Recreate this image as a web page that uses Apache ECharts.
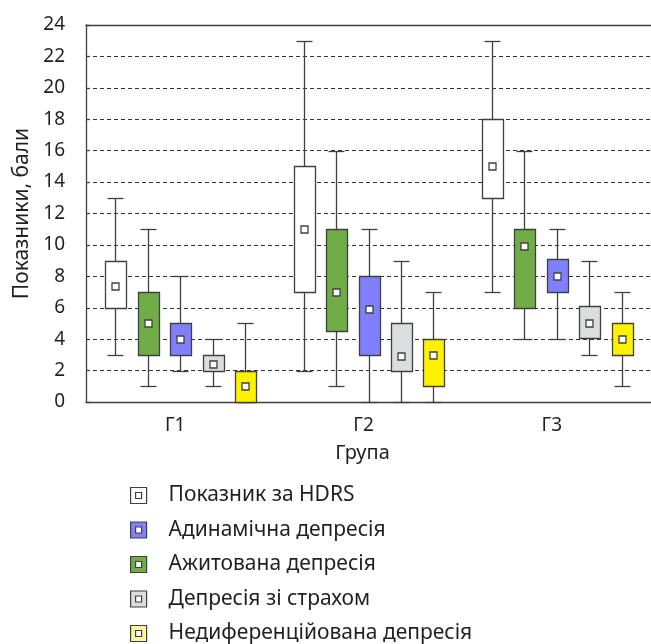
<!DOCTYPE html>
<html>
<head>
<meta charset="utf-8">
<script src="https://cdn.jsdelivr.net/npm/echarts@6/dist/echarts.min.js"></script>
<style>
html,body{margin:0;padding:0;background:#fff;}
#chart{width:651px;height:644px;}
</style>
</head>
<body>
<div id="chart"></div>
<script>
// ---- data ----
const categories = ['Г1', 'Г2', 'Г3'];
const yTicks = [0, 2, 4, 6, 8, 10, 12, 14, 16, 18, 20, 22, 24];

// plot order (left to right within each group)
const seriesNames = ['Показник за HDRS', 'Ажитована депресія', 'Адинамічна депресія', 'Депресія зі страхом', 'Недиференційована депресія'];
const legendOrder = ['Показник за HDRS', 'Адинамічна депресія', 'Ажитована депресія', 'Депресія зі страхом', 'Недиференційована депресія'];

// per series, per group: min, q1, q3, max, mean
const hdrsMin  = [3, 2, 7];
const hdrsQ1   = [6, 7, 13];
const hdrsQ3   = [9, 15, 18];
const hdrsMax  = [13, 23, 23];
const hdrsMean = [7.4, 11, 15];

const agitMin  = [1, 1, 4];
const agitQ1   = [3, 4.5, 6];
const agitQ3   = [7, 11, 11];
const agitMax  = [11, 16, 16];
const agitMean = [5, 7, 9.9];

const adynMin  = [2, 0, 4];
const adynQ1   = [3, 3, 7];
const adynQ3   = [5, 8, 9.1];
const adynMax  = [8, 11, 11];
const adynMean = [4, 5.9, 8];

const fearMin  = [1, 0, 3];
const fearQ1   = [2, 2, 4.1];
const fearQ3   = [3, 5, 6.1];
const fearMax  = [4, 9, 9];
const fearMean = [2.4, 2.9, 5];

const undMin  = [0, 0, 1];
const undQ1   = [0, 1, 3];
const undQ3   = [2, 4, 5];
const undMax  = [5, 7, 7];
const undMean = [1, 3, 4];

const seriesStats = [
  [hdrsMin, hdrsQ1, hdrsQ3, hdrsMax, hdrsMean],
  [agitMin, agitQ1, agitQ3, agitMax, agitMean],
  [adynMin, adynQ1, adynQ3, adynMax, adynMean],
  [fearMin, fearQ1, fearQ3, fearMax, fearMean],
  [undMin, undQ1, undQ3, undMax, undMean]
];

// ---- styles ----
const colorMap = {
  'Показник за HDRS': '#ffffff',
  'Ажитована депресія': '#70ad47',
  'Адинамічна депресія': '#8080ff',
  'Депресія зі страхом': '#dcdddf',
  'Недиференційована депресія': '#fff200'
};
const legendColorMap = {
  'Показник за HDRS': '#ffffff',
  'Ажитована депресія': '#70ad47',
  'Адинамічна депресія': '#8080ff',
  'Депресія зі страхом': '#dcdddf',
  'Недиференційована депресія': '#fff59a'
};
const edge = '#404040';
const textColor = '#231f20';
const fontFamily = '"Noto Sans", "Open Sans", sans-serif';

function renderItem(params, api) {
  const si = params.seriesIndex;
  const cat = api.value(0);
  const band = api.size([1, 0])[0];
  const off = (si - 2) * band * 0.1724;
  const bw = band * 0.114;
  const capW = band * 0.085;
  const cx = Math.round(api.coord([cat, 0])[0] + off) + 0.5;
  const y = i => Math.round(api.coord([cat, api.value(i)])[1]) + 0.5;
  const yMin = y(1), yQ1 = y(2), yQ3 = y(3), yMax = y(4), yMean = y(5);
  const ls = { stroke: edge, lineWidth: 1.3 };
  const left = Math.round(cx - bw / 2) + 0.5;
  const w = Math.round(bw);
  const m = 7;
  return {
    type: 'group',
    children: [
      { type: 'line', shape: { x1: cx, y1: yQ3, x2: cx, y2: yMax }, style: ls },
      { type: 'line', shape: { x1: cx, y1: yQ1, x2: cx, y2: yMin }, style: ls },
      { type: 'line', shape: { x1: cx - capW / 2, y1: yMax, x2: cx + capW / 2, y2: yMax }, style: ls },
      { type: 'line', shape: { x1: cx - capW / 2, y1: yMin, x2: cx + capW / 2, y2: yMin }, style: ls },
      { type: 'rect', shape: { x: left, y: yQ3, width: w, height: yQ1 - yQ3 },
        style: { fill: api.visual('color'), stroke: edge, lineWidth: 1.3 } },
      { type: 'rect', shape: { x: cx - m / 2, y: yMean - m / 2, width: m, height: m },
        style: { fill: '#ffffff', stroke: edge, lineWidth: 1.3 } }
    ]
  };
}

const series = seriesNames.map((name, si) => ({
  type: 'custom',
  name: name,
  renderItem: renderItem,
  itemStyle: { color: colorMap[name] },
  encode: { x: 0, y: [1, 2, 3, 4, 5] },
  data: categories.map((c, ci) => [ci,
    seriesStats[si][0][ci], seriesStats[si][1][ci], seriesStats[si][2][ci],
    seriesStats[si][3][ci], seriesStats[si][4][ci]]),
  z: 3
}));

const legendIcon = 'path://M0,0H16V16H0Z M5,5V11H11V5Z';
const legendRowTop = 485;
const legendRowStep = 34.5;

const legends = legendOrder.map((n, i) => ({
  orient: 'vertical', left: 130, top: legendRowTop + i * legendRowStep, padding: 0,
  itemWidth: 16, itemHeight: 16,
  textStyle: { fontSize: 21, color: textColor, fontFamily: fontFamily, lineHeight: 16, padding: [0, 0, 0, 17] },
  data: [{ name: n, icon: legendIcon, itemStyle: { color: legendColorMap[n], borderColor: edge, borderWidth: 1.2 } }]
}));

const chart = echarts.init(document.getElementById('chart'), null, { renderer: 'canvas' });
chart.setOption({
  animation: false,
  backgroundColor: '#ffffff',
  textStyle: { fontFamily: fontFamily, color: textColor },
  grid: { left: 86, right: 0, top: 25, bottom: 242, containLabel: false },
  xAxis: [
    {
      type: 'category', data: categories, position: 'bottom',
      name: 'Група', nameLocation: 'middle', nameGap: 41,
      nameTextStyle: { fontSize: 20, color: textColor, fontFamily: fontFamily, padding: [0, 12, 0, 0] },
      axisLine: { lineStyle: { color: edge, width: 1.3 } },
      axisTick: { inside: true, length: 8, alignWithLabel: true, lineStyle: { color: edge, width: 1.3 } },
      axisLabel: { fontSize: 19, color: textColor, margin: 14, fontFamily: fontFamily, padding: [0, 10, 0, 0] },
      splitLine: { show: false }
    },
    {
      type: 'category', data: categories, position: 'top',
      axisLine: { lineStyle: { color: edge, width: 1.3 } },
      axisTick: { inside: true, length: 8, alignWithLabel: true, lineStyle: { color: edge, width: 1.3 } },
      axisLabel: { show: false },
      splitLine: { show: false }
    }
  ],
  yAxis: {
    type: 'value', min: yTicks[0], max: yTicks[yTicks.length - 1], interval: 2,
    name: 'Показники, бали', nameLocation: 'middle', nameGap: 53,
    nameTextStyle: { fontSize: 21, color: textColor, fontFamily: fontFamily },
    axisLine: { show: true, lineStyle: { color: edge, width: 1.3 } },
    axisTick: { show: true, inside: true, length: 4, lineStyle: { color: edge, width: 1.3 } },
    axisLabel: { fontSize: 19, color: textColor, margin: 21, fontFamily: fontFamily },
    splitLine: { show: true, lineStyle: { color: '#333333', width: 1, type: [4, 3] } }
  },
  legend: legends,
  series: series
});
</script>
</body>
</html>
